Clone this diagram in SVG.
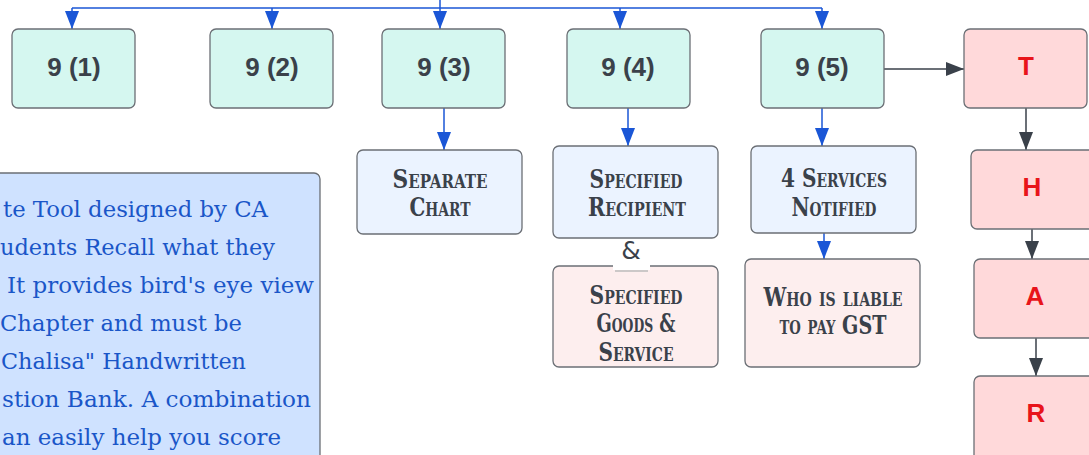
<svg xmlns="http://www.w3.org/2000/svg" width="1089" height="455" viewBox="0 0 1089 455">
  <style>
    .box { stroke: #6b6f75; stroke-width: 1.3; }
    .mint { fill: #d5f7f0; }
    .pale { fill: #ebf3ff; }
    .rose { fill: #fdeeee; }
    .pink { fill: #ffd9da; }
    .note { fill: #cfe2ff; }
    .num { font-family: "Liberation Sans", Arial, sans-serif; font-weight: bold; font-size: 26px; fill: #3a414a; text-anchor: middle; }
    .let { font-family: "Liberation Sans", Arial, sans-serif; font-weight: bold; font-size: 26px; fill: #e8141a; text-anchor: middle; }
    .cap { font-family: "DejaVu Serif Condensed", "DejaVu Serif", serif; font-weight: bold; font-size: 26px; font-variant: small-caps; fill: #3a414a; text-anchor: middle; }
    .body { font-family: "DejaVu Serif", "Liberation Serif", serif; font-size: 22.5px; fill: #1a56c8; }
    .blue { stroke: #1a56d6; stroke-width: 1.5; fill: none; }
    .dark { stroke: #3a414a; stroke-width: 1.5; fill: none; }
  </style>
  <defs>
    <marker id="ab" viewBox="0 0 18 14" refX="18" refY="7" markerWidth="18" markerHeight="14" markerUnits="userSpaceOnUse" orient="auto">
      <path d="M0,0 L18,7 L0,14 Z" fill="#1a56d6"/>
    </marker>
    <marker id="ad" viewBox="0 0 18 14" refX="18" refY="7" markerWidth="18" markerHeight="14" markerUnits="userSpaceOnUse" orient="auto">
      <path d="M0,0 L18,7 L0,14 Z" fill="#3a414a"/>
    </marker>
  </defs>

  <rect width="1089" height="455" fill="#ffffff"/>

  <!-- connectors -->
  <g id="connectors">
    <path class="blue" d="M440,0 V8"/>
    <path class="blue" d="M72,8 H822"/>
    <path class="blue" d="M72,8 V29" marker-end="url(#ab)"/>
    <path class="blue" d="M272,8 V29" marker-end="url(#ab)"/>
    <path class="blue" d="M440,8 V29" marker-end="url(#ab)"/>
    <path class="blue" d="M620,8 V29" marker-end="url(#ab)"/>
    <path class="blue" d="M822,8 V29" marker-end="url(#ab)"/>
    <path class="blue" d="M444,108 V150" marker-end="url(#ab)"/>
    <path class="blue" d="M628,108 V146" marker-end="url(#ab)"/>
    <path class="blue" d="M822,108 V146" marker-end="url(#ab)"/>
    <path class="blue" d="M824,233 V259" marker-end="url(#ab)"/>
    <path class="dark" d="M884,69 H964" marker-end="url(#ad)"/>
    <path class="dark" d="M1026,108 V150" marker-end="url(#ad)"/>
    <path class="dark" d="M1032,229 V259" marker-end="url(#ad)"/>
    <path class="dark" d="M1036,338 V376" marker-end="url(#ad)"/>
  </g>

  <!-- top row -->
  <g id="n91"><rect class="box mint" x="12" y="29" width="123" height="79" rx="6"/><text class="num" x="74" y="76">9 (1)</text></g>
  <g id="n92"><rect class="box mint" x="210" y="29" width="123" height="79" rx="6"/><text class="num" x="272" y="76">9 (2)</text></g>
  <g id="n93"><rect class="box mint" x="382" y="29" width="123" height="79" rx="6"/><text class="num" x="444" y="76">9 (3)</text></g>
  <g id="n94"><rect class="box mint" x="567" y="29" width="123" height="79" rx="6"/><text class="num" x="628" y="76">9 (4)</text></g>
  <g id="n95"><rect class="box mint" x="761" y="29" width="123" height="79" rx="6"/><text class="num" x="822" y="76">9 (5)</text></g>

  <!-- second row -->
  <g id="separate">
    <rect class="box pale" x="357" y="150" width="165" height="84" rx="6"/>
    <text class="cap" x="440" y="188" textLength="95" lengthAdjust="spacingAndGlyphs">Separate</text>
    <text class="cap" x="440" y="216" textLength="61" lengthAdjust="spacingAndGlyphs">Chart</text>
  </g>
  <g id="recipient">
    <rect class="box pale" x="553" y="146" width="165" height="92" rx="6"/>
    <text class="cap" x="636" y="188" textLength="93" lengthAdjust="spacingAndGlyphs">Specified</text>
    <text class="cap" x="637" y="216" textLength="98" lengthAdjust="spacingAndGlyphs">Recipient</text>
  </g>
  <g id="services">
    <rect class="box pale" x="751" y="146" width="165" height="87" rx="6"/>
    <text class="cap" x="834" y="187" textLength="106" lengthAdjust="spacingAndGlyphs">4 Services</text>
    <text class="cap" x="834" y="216" textLength="85" lengthAdjust="spacingAndGlyphs">Notified</text>
  </g>

  <!-- third row -->
  <g id="goods">
    <rect class="box rose" x="553" y="266" width="165" height="101" rx="6"/>
    <text class="cap" x="636" y="304" textLength="93" lengthAdjust="spacingAndGlyphs">Specified</text>
    <text class="cap" x="636" y="332" textLength="79" lengthAdjust="spacingAndGlyphs">Goods &amp;</text>
    <text class="cap" x="636" y="361" textLength="75" lengthAdjust="spacingAndGlyphs">Service</text>
  </g>
  <g id="amp">
    <rect x="613" y="240" width="37" height="30" fill="#ffffff"/>
    <line x1="615" y1="271" x2="648" y2="271" stroke="#b8b8b8" stroke-width="2" opacity="0.7"/>
    <text x="631" y="259" font-family="DejaVu Sans, sans-serif" font-size="25" fill="#3a414a" text-anchor="middle">&amp;</text>
  </g>
  <g id="liable">
    <rect class="box rose" x="745" y="259" width="175" height="108" rx="6"/>
    <text class="cap" x="833" y="306" textLength="139" lengthAdjust="spacingAndGlyphs">Who is liable</text>
    <text class="cap" x="833" y="334" textLength="107" lengthAdjust="spacingAndGlyphs">to pay GST</text>
  </g>

  <!-- THAR column -->
  <g id="t"><rect class="box pink" x="964" y="29" width="123" height="79" rx="6"/><text class="let" x="1026" y="75">T</text></g>
  <g id="h"><rect class="box pink" x="971" y="150" width="125" height="79" rx="6"/><text class="let" x="1032" y="196">H</text></g>
  <g id="a"><rect class="box pink" x="974" y="259" width="125" height="79" rx="6"/><text class="let" x="1035" y="305">A</text></g>
  <g id="r"><rect class="box pink" x="974" y="376" width="125" height="90" rx="6"/><text class="let" x="1036" y="422">R</text></g>

  <!-- description panel -->
  <g id="note">
    <rect class="box note" x="-10" y="173" width="330" height="295" rx="6"/>
    <text class="body" x="3" y="217" textLength="265" lengthAdjust="spacingAndGlyphs">te Tool designed by CA</text>
    <text class="body" x="0" y="255" textLength="275" lengthAdjust="spacingAndGlyphs">udents Recall what they</text>
    <text class="body" x="7" y="293" textLength="307" lengthAdjust="spacingAndGlyphs">It provides bird's eye view</text>
    <text class="body" x="0" y="331" textLength="242" lengthAdjust="spacingAndGlyphs">Chapter and must be</text>
    <text class="body" x="1" y="369" textLength="245" lengthAdjust="spacingAndGlyphs">Chalisa" Handwritten</text>
    <text class="body" x="2" y="407" textLength="309" lengthAdjust="spacingAndGlyphs">stion Bank. A combination</text>
    <text class="body" x="2" y="445" textLength="279" lengthAdjust="spacingAndGlyphs">an easily help you score</text>
  </g>
</svg>
